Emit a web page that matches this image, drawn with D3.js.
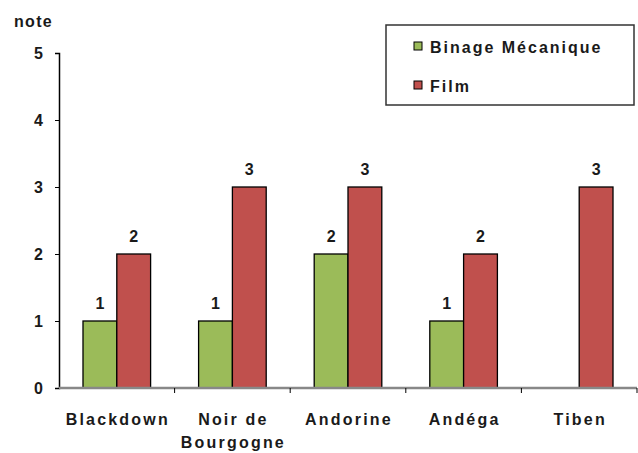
<!DOCTYPE html>
<html>
<head>
<meta charset="utf-8">
<script src="https://cdn.jsdelivr.net/npm/d3@7"></script>
<style>
body { margin: 0; background: #fff; }
text { font-family: "Liberation Sans", Arial, sans-serif; font-weight: bold; fill: #1a1a1a; }
</style>
</head>
<body>
<script>
// data
var categories = ["Blackdown", "Noir de\nBourgogne", "Andorine", "Andéga", "Tiben"];
var seriesNames = ["Binage Mécanique", "Film"];
var binage = [1, 1, 2, 1, null];
var film = [2, 3, 3, 2, 3];
var yTicks = [0, 1, 2, 3, 4, 5];
var colors = ["#9bbb59", "#c0504d"];

var width = 638, height = 453;

var svg = d3.select("body").append("svg")
    .attr("width", width)
    .attr("height", height);

var x = d3.scaleBand()
    .domain(categories)
    .range([59, 637])
    .paddingInner(0)
    .paddingOuter(0);

var y = d3.scaleLinear()
    .domain([0, 5])
    .range([388, 53]);

var inner = d3.scaleBand()
    .domain(seriesNames)
    .range([0, x.bandwidth()])
    .paddingInner(0)
    .paddingOuter(0.71);

// y axis
var yAxis = svg.append("g")
    .attr("transform", "translate(59,0)")
    .call(d3.axisLeft(y).tickValues(yTicks).tickSize(4).tickPadding(12).tickFormat(d3.format("d")));
yAxis.select(".domain").attr("stroke", "#000").attr("stroke-width", 1.5);
yAxis.selectAll(".tick line").attr("stroke", "#000");
yAxis.selectAll(".tick text").style("font-size", "16px").attr("fill", "#1a1a1a");

svg.append("text")
    .attr("x", 14)
    .attr("y", 27)
    .style("font-size", "16px")
    .style("letter-spacing", "1.3px")
    .text("note");

// bars
var rows = categories.map(function(c, i){
    return {cat: c, values: [binage[i], film[i]]};
});

var groups = svg.selectAll(".group")
    .data(rows)
  .enter().append("g")
    .attr("class", "group")
    .attr("transform", function(d){ return "translate(" + x(d.cat) + ",0)"; });

var bars = groups.selectAll(".bar")
    .data(function(d){
        return d.values.map(function(v, j){ return {name: seriesNames[j], value: v, j: j}; })
            .filter(function(e){ return e.value != null; });
    })
  .enter();

bars.append("rect")
    .attr("class", "bar")
    .attr("x", function(d){ return inner(d.name); })
    .attr("y", function(d){ return y(d.value); })
    .attr("width", inner.bandwidth())
    .attr("height", function(d){ return y(0) - y(d.value); })
    .attr("fill", function(d){ return colors[d.j]; })
    .attr("stroke", "#000")
    .attr("stroke-width", 1.3);

bars.append("text")
    .attr("x", function(d){ return inner(d.name) + inner.bandwidth() / 2; })
    .attr("y", function(d){ return y(d.value) - 12; })
    .attr("text-anchor", "middle")
    .style("font-size", "16px")
    .text(function(d){ return d.value; });

// x axis
var xAxis = svg.append("g")
    .attr("transform", "translate(0,388)");
xAxis.append("line")
    .attr("x1", 59).attr("x2", 637)
    .attr("stroke", "#888").attr("stroke-width", 2.5);
xAxis.selectAll(".xtick")
    .data(categories)
  .enter().append("line")
    .attr("x1", function(d){ return x(d) + x.bandwidth(); })
    .attr("x2", function(d){ return x(d) + x.bandwidth(); })
    .attr("y1", 0).attr("y2", 5)
    .attr("stroke", "#000");
xAxis.selectAll(".xlabel")
    .data(categories)
  .enter().append("text")
    .attr("text-anchor", "middle")
    .attr("transform", function(d){ return "translate(" + (x(d) + x.bandwidth() / 2 + 1) + ",37)"; })
    .style("font-size", "16px")
    .style("letter-spacing", "2.2px")
    .each(function(d){
        var lines = d.split("\n");
        var t = d3.select(this);
        lines.forEach(function(l, k){
            t.append("tspan").attr("x", 0).attr("dy", k ? 23 : 0).text(l);
        });
    });

// legend
var legend = svg.append("g");
legend.append("rect")
    .attr("x", 386).attr("y", 25)
    .attr("width", 248).attr("height", 80)
    .attr("fill", "#fff")
    .attr("stroke", "#333").attr("stroke-width", 1.5);
var items = legend.selectAll(".item")
    .data(seriesNames)
  .enter().append("g")
    .attr("transform", function(d, i){ return "translate(414," + (42 + i * 39) + ")"; });
items.append("rect")
    .attr("width", 8).attr("height", 8)
    .attr("fill", function(d, i){ return colors[i]; })
    .attr("stroke", "#000").attr("stroke-width", 1);
items.append("text")
    .attr("x", 16).attr("y", 11)
    .style("font-size", "16px")
    .style("letter-spacing", "2px")
    .text(function(d){ return d; });
</script>
</body>
</html>
